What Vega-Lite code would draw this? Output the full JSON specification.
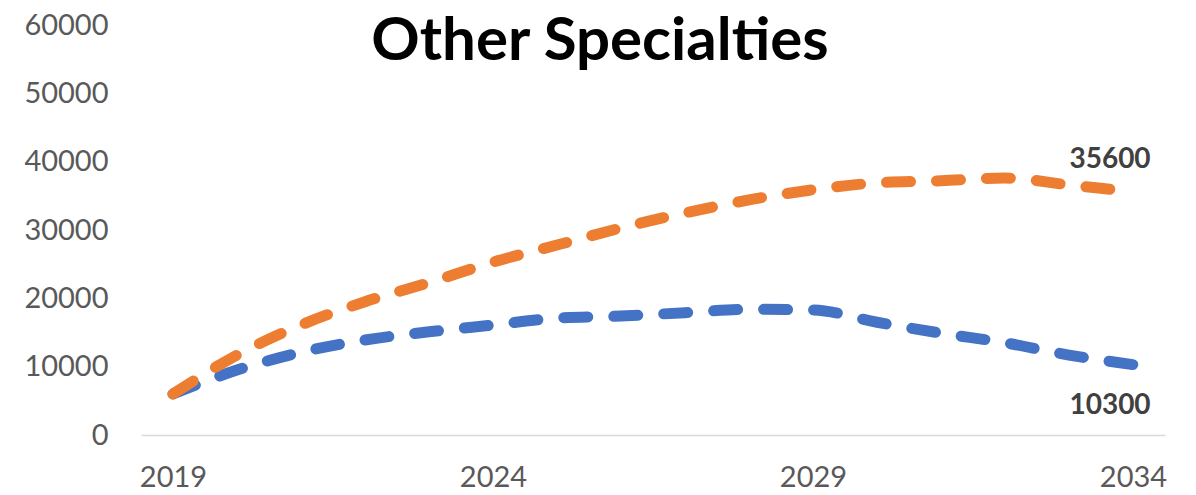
{
  "$schema": "https://vega.github.io/schema/vega-lite/v6.json",
  "width": 1024,
  "height": 410,
  "autosize": "none",
  "padding": {"left": 141, "top": 25, "right": 31, "bottom": 60},
  "background": "white",
  "config": {"view": {"stroke": null}},
  "title": {
    "text": "Other Specialties",
    "font": "Lato",
    "fontSize": 60,
    "fontWeight": "bold",
    "color": "#000000",
    "anchor": "middle",
    "frame": "group",
    "baseline": "alphabetic",
    "offset": 0,
    "dx": -53,
    "dy": 109
  },
  "data": {
    "values": [
      {"year": 2019, "series": "Series1", "value": 6000},
      {"year": 2020, "series": "Series1", "value": 9500},
      {"year": 2021, "series": "Series1", "value": 12100},
      {"year": 2022, "series": "Series1", "value": 13900},
      {"year": 2023, "series": "Series1", "value": 15100},
      {"year": 2024, "series": "Series1", "value": 16100},
      {"year": 2025, "series": "Series1", "value": 17100},
      {"year": 2026, "series": "Series1", "value": 17400},
      {"year": 2027, "series": "Series1", "value": 17900},
      {"year": 2028, "series": "Series1", "value": 18400},
      {"year": 2029, "series": "Series1", "value": 18300},
      {"year": 2030, "series": "Series1", "value": 16500},
      {"year": 2031, "series": "Series1", "value": 14900},
      {"year": 2032, "series": "Series1", "value": 13500},
      {"year": 2033, "series": "Series1", "value": 11700},
      {"year": 2034, "series": "Series1", "value": 10300},
      {"year": 2019, "series": "Series2", "value": 6000},
      {"year": 2020, "series": "Series2", "value": 11700},
      {"year": 2021, "series": "Series2", "value": 16100},
      {"year": 2022, "series": "Series2", "value": 19500},
      {"year": 2023, "series": "Series2", "value": 22300},
      {"year": 2024, "series": "Series2", "value": 25300},
      {"year": 2025, "series": "Series2", "value": 27800},
      {"year": 2026, "series": "Series2", "value": 30300},
      {"year": 2027, "series": "Series2", "value": 32500},
      {"year": 2028, "series": "Series2", "value": 34400},
      {"year": 2029, "series": "Series2", "value": 35900},
      {"year": 2030, "series": "Series2", "value": 36900},
      {"year": 2031, "series": "Series2", "value": 37200},
      {"year": 2032, "series": "Series2", "value": 37600},
      {"year": 2033, "series": "Series2", "value": 36600},
      {"year": 2034, "series": "Series2", "value": 35600}
    ]
  },
  "encoding": {
    "x": {
      "field": "year",
      "type": "quantitative",
      "scale": {"domain": [2018.5, 2034.5], "nice": false, "zero": false},
      "axis": {
        "values": [2019, 2024, 2029, 2034],
        "format": "d",
        "title": null,
        "grid": false,
        "ticks": false,
        "domain": true,
        "domainColor": "#D9D9D9",
        "domainWidth": 1.5,
        "labelFont": "Lato",
        "labelFontSize": 29,
        "labelColor": "#595959",
        "labelPadding": 42,
        "labelBaseline": "middle",
        "labelFlush": false
      }
    },
    "y": {
      "field": "value",
      "type": "quantitative",
      "scale": {"domain": [0, 60000], "nice": false},
      "axis": {
        "values": [0, 10000, 20000, 30000, 40000, 50000, 60000],
        "format": "d",
        "title": null,
        "grid": false,
        "ticks": false,
        "domain": false,
        "labelFont": "Lato",
        "labelFontSize": 29,
        "labelColor": "#595959",
        "labelPadding": 33
      }
    }
  },
  "layer": [
    {
      "mark": {
        "type": "line",
        "interpolate": "monotone",
        "strokeWidth": 11,
        "strokeCap": "round",
        "strokeDash": [24, 26]
      },
      "encoding": {
        "color": {
          "field": "series",
          "type": "nominal",
          "scale": {"domain": ["Series1", "Series2"], "range": ["#4472C4", "#ED7D31"]},
          "legend": null
        }
      }
    },
    {
      "transform": [{"filter": "datum.year == 2034 && datum.series == 'Series2'"}],
      "mark": {
        "type": "text",
        "font": "Lato",
        "fontSize": 28,
        "fontWeight": "bold",
        "color": "#404040",
        "dx": -23,
        "dy": -32
      },
      "encoding": {"text": {"field": "value", "type": "quantitative", "format": "d"}}
    },
    {
      "transform": [{"filter": "datum.year == 2034 && datum.series == 'Series1'"}],
      "mark": {
        "type": "text",
        "font": "Lato",
        "fontSize": 28,
        "fontWeight": "bold",
        "color": "#404040",
        "dx": -23,
        "dy": 41
      },
      "encoding": {"text": {"field": "value", "type": "quantitative", "format": "d"}}
    }
  ]
}
